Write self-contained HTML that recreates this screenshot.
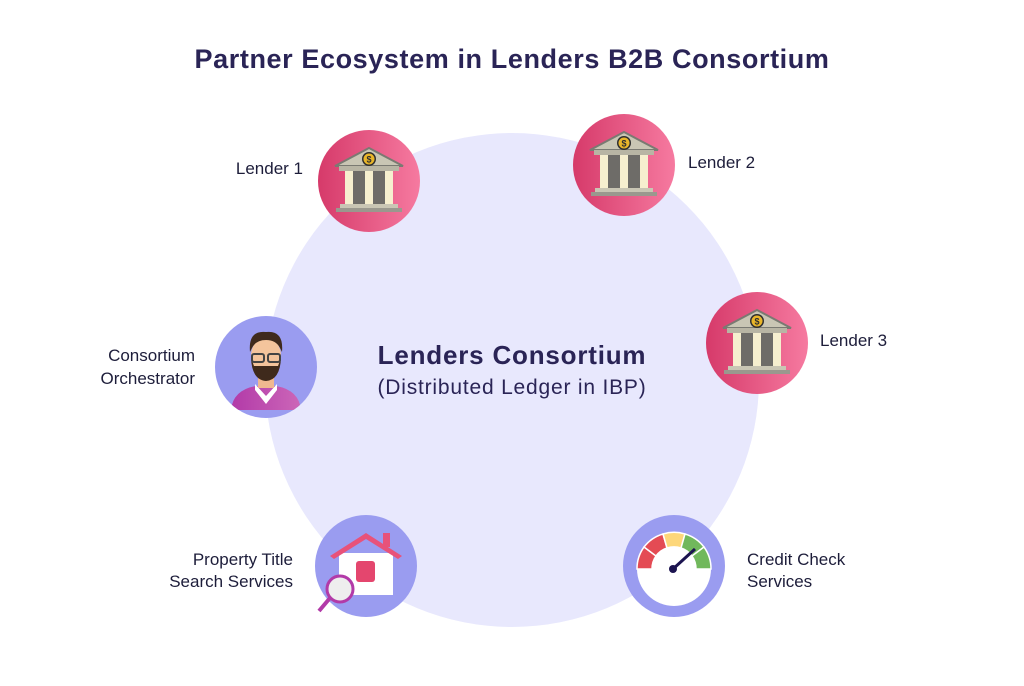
<!DOCTYPE html>
<html><head><meta charset="utf-8"><style>
body{margin:0;background:#fff;}
svg{display:block;font-family:"Liberation Sans",sans-serif;}
</style></head><body>
<svg width="1024" height="686" viewBox="0 0 1024 686">
<defs>
<linearGradient id="pk" x1="0" x2="1"><stop offset="0" stop-color="#d63a6a"/><stop offset="1" stop-color="#f67aa0"/></linearGradient>
<linearGradient id="pu" x1="0" x2="1"><stop offset="0" stop-color="#b23aa8"/><stop offset="1" stop-color="#cc66b8"/></linearGradient>
<g id="bank">
<circle r="51" fill="url(#pk)"/>
<polygon points="-34,-15 0,-33 34,-15" fill="#c9c6b4" stroke="#7a7a72" stroke-width="2"/>
<rect x="-30" y="-15" width="60" height="5" fill="#b8b5a4"/>
<rect x="-22" y="-10" width="44" height="33" fill="#6e6c68"/>
<rect x="-24" y="-10" width="8" height="33" fill="#f6efcf"/>
<rect x="-4" y="-10" width="8" height="33" fill="#f6efcf"/>
<rect x="16" y="-10" width="8" height="33" fill="#f6efcf"/>
<rect x="-29" y="23" width="58" height="4" fill="#c9c6b4"/>
<rect x="-33" y="27" width="66" height="4" fill="#9a988e"/>
<circle cx="0" cy="-22" r="7" fill="#2f2f2f"/><circle cx="0" cy="-22" r="5.5" fill="#e9b62a"/>
<text x="0" y="-18.5" font-size="9" font-weight="bold" text-anchor="middle" fill="#2f2f2f">$</text>
</g>
</defs>
<text x="512" y="68" font-size="27" font-weight="bold" fill="#2a2456" text-anchor="middle" letter-spacing="0.6">Partner Ecosystem in Lenders B2B Consortium</text>
<circle cx="512" cy="380" r="247" fill="#e8e8fd"/>
<text x="512" y="364" font-size="26" font-weight="bold" fill="#2a2456" text-anchor="middle" letter-spacing="0.8">Lenders Consortium</text>
<text x="512" y="394" font-size="21" fill="#2a2456" text-anchor="middle" letter-spacing="0.8">(Distributed Ledger in IBP)</text>

<use href="#bank" x="369" y="181"/>
<use href="#bank" x="624" y="165"/>
<use href="#bank" x="757" y="343"/>
<g font-size="17" fill="#1d1d3a">
<text x="303" y="174" text-anchor="end">Lender 1</text>
<text x="688" y="168">Lender 2</text>
<text x="820" y="346">Lender 3</text>
<text x="195" y="361" text-anchor="end">Consortium</text>
<text x="195" y="384" text-anchor="end">Orchestrator</text>
<text x="293" y="565" text-anchor="end">Property Title</text>
<text x="293" y="587" text-anchor="end">Search Services</text>
<text x="747" y="565">Credit Check</text>
<text x="747" y="587">Services</text>
</g>

<circle cx="266" cy="367" r="51" fill="#9a9cf0"/>
<clipPath id="pc"><circle cx="266" cy="367" r="51"/></clipPath>
<g clip-path="url(#pc)">
<path d="M231,410 Q233,390 256,386 L276,386 Q299,390 301,410 Z" fill="url(#pu)"/>
<path d="M255,384 L266,396 L277,384 L277,390 L266,404 L255,390 Z" fill="#fff"/>
<rect x="258" y="372" width="16" height="16" fill="#f0b890"/>
<ellipse cx="266" cy="356" rx="15" ry="19" fill="#f4c49c"/>
<path d="M250,352 Q248,330 266,332 Q284,330 282,352 L280,348 Q276,340 266,340 Q256,340 252,348 Z" fill="#3f2a1c"/>
<path d="M251,358 Q252,380 266,381 Q280,380 281,358 L278,366 L254,366 Z" fill="#3f2a1c"/>
<rect x="252" y="354" width="12" height="8" rx="2" fill="none" stroke="#444" stroke-width="2"/>
<rect x="268" y="354" width="12" height="8" rx="2" fill="none" stroke="#444" stroke-width="2"/>
</g>

<circle cx="366" cy="566" r="51" fill="#9a9cf0"/>
<rect x="339" y="553" width="54" height="42" fill="#fff"/>
<polygon points="330,556 366,533 402,556 398,559 366,539 334,559" fill="#e8527a"/>
<rect x="383" y="533" width="7" height="14" fill="#e8527a"/>
<rect x="356" y="561" width="19" height="21" rx="3" fill="#e4466e"/>
<line x1="330" y1="598" x2="319" y2="611" stroke="#b23aa8" stroke-width="4"/>
<circle cx="340" cy="589" r="13" fill="#eee" stroke="#b23aa8" stroke-width="3"/>

<circle cx="674" cy="566" r="51" fill="#9a9cf0"/>
<circle cx="674" cy="569" r="37" fill="#fff"/>
<g stroke="#fff" stroke-width="1.5">
<path d="M637,569 A37,37 0 0 1 644,547 L656,556 A22,22 0 0 0 652,569 Z" fill="#e44b54"/>
<path d="M644,547 A37,37 0 0 1 663,534 L667,548 A22,22 0 0 0 656,556 Z" fill="#e44b54"/>
<path d="M663,534 A37,37 0 0 1 685,534 L681,548 A22,22 0 0 0 667,548 Z" fill="#fdd77a"/>
<path d="M685,534 A37,37 0 0 1 704,547 L692,556 A22,22 0 0 0 681,548 Z" fill="#71b85c"/>
<path d="M704,547 A37,37 0 0 1 711,569 L696,569 A22,22 0 0 0 692,556 Z" fill="#71b85c"/>
</g>
<line x1="673" y1="569" x2="695" y2="549" stroke="#1c1450" stroke-width="3"/>
<circle cx="673" cy="569" r="4" fill="#1c1450"/>
</svg>
</body></html>
